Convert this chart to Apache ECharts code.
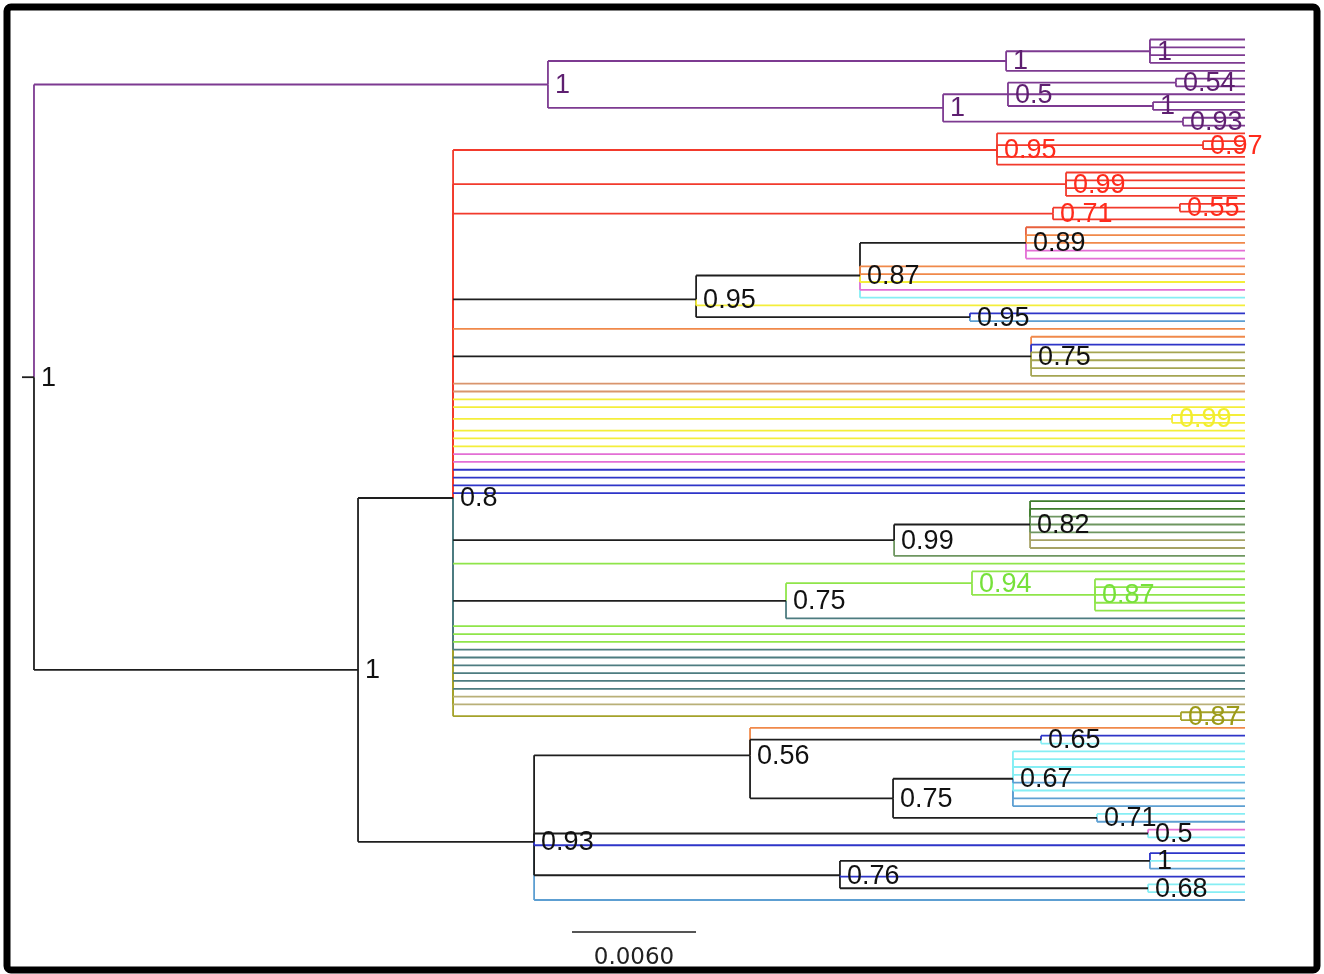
<!DOCTYPE html>
<html><head><meta charset="utf-8">
<script src="https://cdn.jsdelivr.net/npm/echarts@6/dist/echarts.min.js"></script>
<style>html,body{margin:0;padding:0;background:#fff}#c{width:1324px;height:974px}</style>
</head><body><div id="c"></div>
<script>
// ---------------- DATA ----------------
// trait state of each tip (top to bottom)
const tipStates = [
  'P','P','P','P','P','P','P','P','P','P','P','P',          // 0-11
  'R','R','R','R','R','R','R','R','R','R','R','R',          // 12-23
  'RO','O','O','M','M','O','O','Y','M','C',                 // 24-33
  'Y','B','SB','O','O','B','Ol2','Ol2','Ol2','Ol2',         // 34-43
  'Br','Br','Y','Y','Y','Y','Y','Y','Y','M',                // 44-53
  'M','B','B','B','B','DG','DG','GG','GG','GG',             // 54-63
  'Kh','Kh','GG','LG','LG','LG','LG','LG','LG','LG',        // 64-73
  'T','LG','LG','LG','T','T','T','T','T','T',               // 74-83
  'K','K','Ol','Ol','O','B','C','C','C','C',                // 84-93
  'C','SB','C','SB','SB','C','SB','M','C','B',              // 94-103
  'B','C','SB','B','C','C','SB'                             // 104-110
];
// parent node of each tip
const tipParents = [
  'C','C','C','C','B','F','F','E','G','G','H','H',
  'R95','R97','R97','R95','R95','R99','R99','R99','R99','R55','R55','R71',
  'N89','N89','N89','N89','N89','N87','N87','N87','N87','N87',
  'N95','N95b','N95b','I','N75a','N75a','N75a','N75a','N75a','N75a',
  'I','I','I','I','Y99','Y99','I','I','I','I',
  'I','I','I','I','I','B82','B82','B82','B82','B82',
  'B82','B82','B99','I','G94','G87','G87','G87','G87','G87',
  'N75b','I','I','I','I','I','I','I','I','I',
  'I','I','O87','O87','K','K65','K65','K67','K67','K67',
  'K67','K67','K67','K67','K67','K71','K71','J5','J5','J',
  'M1','M1','M1','M','M68','M68','J'
];
// state of the lineage joining a tip to its parent, where it differs from the tip state
const tipVia = {37:'R',44:'R',45:'R',46:'R',47:'R',50:'R',51:'R',52:'R',53:'R',54:'R',55:'R',56:'R',57:'R',58:'R',
  67:'T',75:'T',76:'T',77:'T',78:'T',79:'Ol',80:'Ol',81:'Ol',82:'Ol',83:'Ol',84:'Ol',85:'Ol'};
// internal nodes: [id, parent, height (subst./site), posterior, state, lineage state]
const nodes = [
  ['root', null,   0.05860, '1',    'X'],
  ['A',    'root', 0.03373, '1',    'P'],
  ['B',    'A',    0.01156, '1',    'P'],
  ['C',    'B',    0.00460, '1',    'P'],
  ['D',    'A',    0.01461, '1',    'P'],
  ['E',    'D',    0.01147, '0.5',  'P'],
  ['F',    'E',    0.00334, '0.54', 'P'],
  ['G',    'E',    0.00445, '1',    'P'],
  ['H',    'D',    0.00300, '0.93', 'P'],
  ['N1',   'root', 0.04292, '1',    'X'],
  ['I',    'N1',   0.03832, '0.8',  'X'],
  ['R95',  'I',    0.01200, '0.95', 'R', 'R'],
  ['R97',  'R95',  0.00203, '0.97', 'R'],
  ['R99',  'I',    0.00866, '0.99', 'R', 'R'],
  ['R71',  'I',    0.00929, '0.71', 'R', 'R'],
  ['R55',  'R71',  0.00315, '0.55', 'R'],
  ['N95',  'I',    0.02656, '0.95', 'X', 'R'],
  ['N87',  'N95',  0.01863, '0.87', 'X'],
  ['N89',  'N87',  0.01060, '0.89', 'X'],
  ['N95b', 'N95',  0.01331, '0.95', 'X'],
  ['N75a', 'I',    0.01035, '0.75', 'X', 'R'],
  ['Y99',  'I',    0.00353, '0.99', 'Y', 'R'],
  ['B99',  'I',    0.01698, '0.99', 'X', 'T'],
  ['B82',  'B99',  0.01040, '0.82', 'X'],
  ['N75b', 'I',    0.02221, '0.75', 'X', 'T'],
  ['G94',  'N75b', 0.01321, '0.94', 'LG'],
  ['G87',  'G94',  0.00726, '0.87', 'LG'],
  ['O87',  'I',    0.00310, '0.87', 'Ol', 'Ol'],
  ['J',    'N1',   0.03440, '0.93', 'X'],
  ['K',    'J',    0.02395, '0.56', 'X'],
  ['K65',  'K',    0.00987, '0.65', 'X'],
  ['K75',  'K',    0.01703, '0.75', 'X'],
  ['K67',  'K75',  0.01123, '0.67', 'X'],
  ['K71',  'K75',  0.00716, '0.71', 'X'],
  ['J5',   'J',    0.00469, '0.5',  'X'],
  ['M',    'J',    0.01960, '0.76', 'X'],
  ['M1',   'M',    0.00460, '1',    'X'],
  ['M68',  'M',    0.00469, '0.68', 'X']
];
const rootBranch = 0.00058;
const scaleBarLength = 0.006;
const scaleBarLabel = '0.0060';

// ---------------- STYLE ----------------
const stateColors = {
  X:'#1e1e1e', P:'#7d3a91', R:'#f23a2c', RO:'#e8603c', O:'#f0894a', Y:'#f4ee3a', M:'#e36fd5',
  C:'#86eef4', B:'#2e35c8', SB:'#5d9fd2', Ol2:'#a5a552', Br:'#d9956d', DG:'#3e7d2c',
  GG:'#6e9660', Kh:'#a6a265', LG:'#8fe54a', T:'#4d7c80', K:'#b9b078', Ol:'#a4a22a'
};
const labelColors = {X:'#111111', P:'#5e1f70', R:'#ff2b1c', Y:'#f2ee2e', LG:'#76e13a', Ol:'#9c9a18'};

// ---------------- BUILD TREE ----------------
const N = {};
nodes.forEach(([id, parent, h, sup, st, via]) => { N[id] = {id, parent, h, sup, st, via: via || st, kids: []}; });
const tips = tipStates.map((st, i) => ({tip: i, parent: tipParents[i], h: 0, st, via: tipVia[i] || st, y: i}));
nodes.forEach(([id, parent]) => { if (parent) N[parent].kids.push(N[id]); });
tips.forEach(t => N[t.parent].kids.push(t));
function layY(n) {
  if (n.tip !== undefined) return n.y;
  n.y = n.kids.reduce((s, k) => s + layY(k), 0) / n.kids.length;
  return n.y;
}
layY(N.root);

const verts = [], hors = [];
const all = nodes.map(r => N[r[0]]).concat(tips);
all.forEach(e => {
  if (!e.parent) return;
  const p = N[e.parent];
  verts.push({x1: p.h, y1: p.y, x2: p.h, y2: e.y, col: e.via});
  hors.push({x1: p.h, y1: e.y, x2: e.h, y2: e.y, col: e.st});
});
verts.sort((a, b) => Math.abs(b.y2 - b.y1) - Math.abs(a.y2 - a.y1));
hors.push({x1: N.root.h + rootBranch, y1: N.root.y, x2: N.root.h, y2: N.root.y, col: 'X'});
const segs = verts.concat(hors);
const labels = nodes.map(r => N[r[0]]);

const xMax = N.root.h + rootBranch;
const sbStart = 0.032565, sbRow = 114.1;

const chart = echarts.init(document.getElementById('c'), null, {renderer: 'canvas'});
chart.setOption({
  animation: false,
  backgroundColor: '#ffffff',
  grid: {left: 22, right: 79, top: 39.5, bottom: 74},
  xAxis: {type: 'value', min: 0, max: xMax, inverse: true, show: false},
  yAxis: {type: 'value', min: 0, max: tipStates.length - 1, inverse: true, show: false},
  graphic: [{type: 'rect', shape: {x: 7, y: 7, width: 1310, height: 963, r: 4},
    style: {fill: 'none', stroke: '#000', lineWidth: 7}, z: 100}],
  series: [
    {
      type: 'custom', clip: false,
      data: segs.map(s => [s.x1, s.y1, s.x2, s.y2]),
      encode: {x: [0, 2], y: [1, 3]},
      renderItem: (params, api) => {
        const s = segs[params.dataIndex];
        const a = api.coord([s.x1, s.y1]), b = api.coord([s.x2, s.y2]);
        return {type: 'line', shape: {x1: a[0], y1: a[1], x2: b[0], y2: b[1]},
          style: {stroke: stateColors[s.col], lineWidth: 1.8}};
      }
    },
    {
      type: 'custom', clip: false, z: 5,
      data: labels.map(n => [n.h, n.y]),
      encode: {x: 0, y: 1},
      renderItem: (params, api) => {
        const n = labels[params.dataIndex];
        const p = api.coord([n.h, n.y]);
        return {type: 'text', x: p[0] + 7, y: p[1] + 1,
          style: {text: n.sup, fill: labelColors[n.st] || '#111', fontSize: 27,
            fontFamily: '"Liberation Sans", Arial, sans-serif', align: 'left', verticalAlign: 'middle'}};
      }
    },
    {
      type: 'custom', clip: false,
      data: [[sbStart, sbRow, sbStart - scaleBarLength, sbRow]],
      encode: {x: [0, 2], y: [1, 3]},
      renderItem: (params, api) => {
        const a = api.coord([api.value(0), api.value(1)]), b = api.coord([api.value(2), api.value(3)]);
        return {type: 'group', children: [
          {type: 'line', shape: {x1: a[0], y1: a[1], x2: b[0], y2: b[1]}, style: {stroke: '#555', lineWidth: 2}},
          {type: 'text', x: (a[0] + b[0]) / 2, y: a[1] + 26,
            style: {text: scaleBarLabel, fill: '#222', fontSize: 23, fontFamily: '"DejaVu Sans", sans-serif',
              align: 'center', verticalAlign: 'middle'}}
        ]};
      }
    }
  ]
});
</script>
</body></html>
